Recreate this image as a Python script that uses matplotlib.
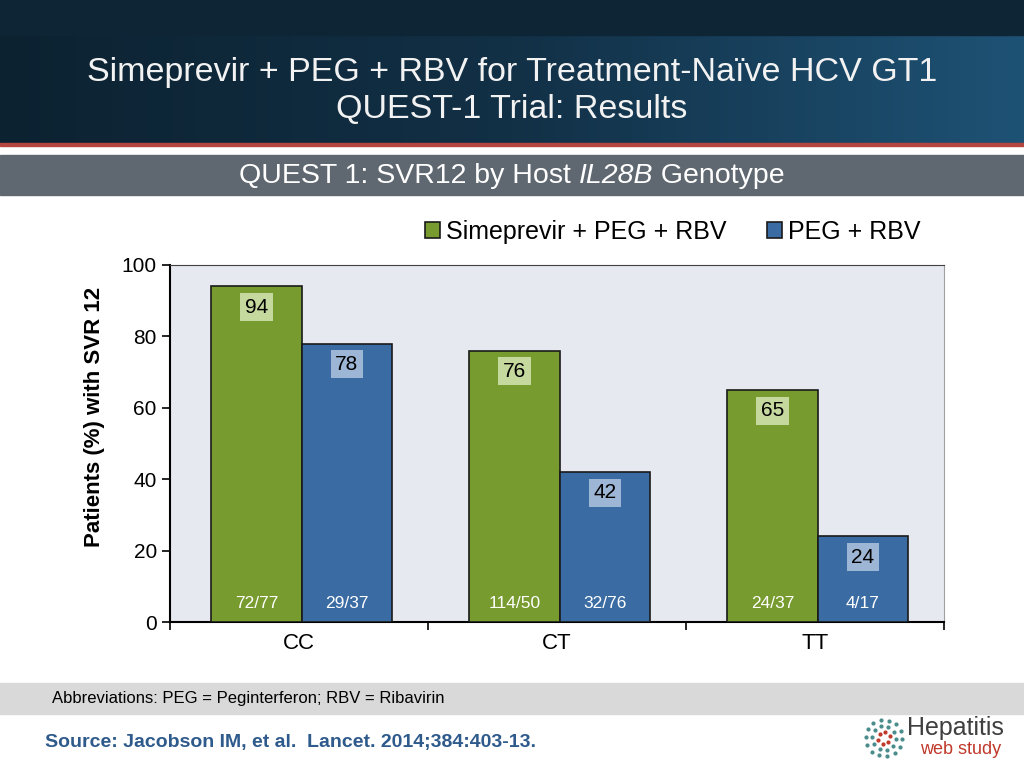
import matplotlib.pyplot as plt
from matplotlib.patches import Rectangle
from matplotlib.colors import LinearSegmentedColormap
import numpy as np

# chart values
genotypes = ['CC', 'CT', 'TT']
smv_values = [94, 76, 65]
peg_values = [78, 42, 24]
smv_counts = ['72/77', '114/50', '24/37']
peg_counts = ['29/37', '32/76', '4/17']
series_names = ['Simeprevir + PEG + RBV', 'PEG + RBV']
y_ticks = [0, 20, 40, 60, 80, 100]

GREEN = '#779B2E'
BLUE = '#3A6CA3'
plt.rcParams['font.family'] = ['Liberation Sans', 'DejaVu Sans']


def centered_parts(fig, parts, y, **kw):
    # lay out (text, style) pieces side by side, centered on the figure
    r = fig.canvas.get_renderer()
    texts = [fig.text(0, y, s, style=st, ha='left', va='center', **kw) for s, st in parts]
    widths = [t.get_window_extent(r).width for t in texts]
    x = (fig.bbox.width - sum(widths)) / 2
    for t, wd in zip(texts, widths):
        t.set_x(x / fig.bbox.width)
        x += wd


def main():
    fig = plt.figure(figsize=(10.24, 7.68), dpi=100)

    # slide background
    bg = fig.add_axes([0, 0, 1, 1])
    bg.set_xlim(0, 1024)
    bg.set_ylim(768, 0)
    bg.axis('off')
    grad = np.linspace(0, 1, 256).reshape(1, -1)
    hdr = LinearSegmentedColormap.from_list('hdr', ['#0C2231', '#123046', '#1E5275'])
    bg.imshow(np.vstack([grad, grad]), extent=(0, 1024, 143, 35), aspect='auto',
              cmap=hdr, zorder=0)
    bg.add_patch(Rectangle((0, 0), 1024, 35, color='#0E2535', zorder=1))
    bg.add_patch(Rectangle((0, 143), 1024, 3, color='#B5463F', zorder=1))
    bg.add_patch(Rectangle((0, 155), 1024, 40, color='#5F6870', zorder=1))
    bg.add_patch(Rectangle((0, 683), 1024, 31, color='#D9D9D9', zorder=1))

    fig.text(0.5, 1 - 72 / 768, 'Simeprevir + PEG + RBV for Treatment-Naïve HCV GT1',
             ha='center', va='center', color='#F2F2F2', fontsize=24.5)
    fig.text(0.5, 1 - 110 / 768, 'QUEST-1 Trial: Results',
             ha='center', va='center', color='#F2F2F2', fontsize=24.5)
    centered_parts(fig, [('QUEST 1: SVR12 by Host ', 'normal'), ('IL28B', 'italic'),
                         (' Genotype', 'normal')],
                   1 - 176 / 768, color='white', fontsize=20.5)
    fig.text(52 / 1024, 1 - 698 / 768, 'Abbreviations: PEG = Peginterferon; RBV = Ribavirin',
             ha='left', va='center', color='black', fontsize=12)
    fig.text(45 / 1024, 1 - 742 / 768, 'Source: Jacobson IM, et al.  Lancet. 2014;384:403-13.',
             ha='left', va='center', color='#2E5A8C', fontsize=14, fontweight='bold')

    # logo
    fig.text(907 / 1024, 1 - 728 / 768, 'Hepatitis', ha='left', va='center',
             color='#3F3F3F', fontsize=18)
    fig.text(920 / 1024, 1 - 750 / 768, 'web study', ha='left', va='center',
             color='#C0392B', fontsize=13)
    for r, n in [(6, 6), (12, 10), (18, 14)]:
        ang = np.linspace(0, 2 * np.pi, n, endpoint=False) + r
        bg.scatter(884 + r * np.cos(ang), 738 + r * np.sin(ang), s=4,
                   c=['#C0392B' if r == 6 else '#4A8C8C'], zorder=2)

    # chart
    ax = fig.add_axes([170 / 1024, 1 - 622 / 768, 774 / 1024, 357 / 768])
    ax.set_facecolor('#E6E9EF')
    x = np.arange(len(genotypes))
    w = 0.35
    b1 = ax.bar(x - w / 2 + 0.01, smv_values, w, color=GREEN, edgecolor='#1A1A1A',
                linewidth=1.2, label=series_names[0], zorder=3)
    b2 = ax.bar(x + w / 2 + 0.01, peg_values, w, color=BLUE, edgecolor='#1A1A1A',
                linewidth=1.2, label=series_names[1], zorder=3)

    for xi, v in zip(x - w / 2 + 0.01, smv_values):
        ax.text(xi, v - 5.8, str(v), ha='center', va='center', fontsize=15,
                bbox=dict(boxstyle='square,pad=0.22', fc='#C5D89E', ec='none'), zorder=4)
    for xi, v in zip(x + w / 2 + 0.01, peg_values):
        ax.text(xi, v - 5.8, str(v), ha='center', va='center', fontsize=15,
                bbox=dict(boxstyle='square,pad=0.22', fc='#9DB6D6', ec='none'), zorder=4)
    for xi, t in zip(x - w / 2 + 0.01, smv_counts):
        ax.text(xi, 5.3, t, ha='center', va='center', fontsize=12.5, color='white',
                zorder=4)
    for xi, t in zip(x + w / 2 + 0.01, peg_counts):
        ax.text(xi, 5.3, t, ha='center', va='center', fontsize=12.5, color='white',
                zorder=4)

    ax.set_xlim(-0.5, 2.5)
    ax.set_ylim(0, 100)
    ax.set_yticks(y_ticks)
    ax.set_yticklabels([str(t) for t in y_ticks], fontsize=15)
    ax.set_xticks([-0.5, 0.5, 1.5, 2.5])
    ax.set_xticklabels([])
    ax.set_xticks(x, minor=True)
    ax.set_xticklabels(genotypes, minor=True, fontsize=16)
    ax.tick_params(axis='x', which='minor', length=0, pad=8)
    ax.tick_params(axis='x', which='major', length=6, width=1.2, direction='out')
    ax.tick_params(axis='y', length=6, width=1.2, direction='out')
    for s in ['left', 'bottom']:
        ax.spines[s].set_linewidth(1.5)
        ax.spines[s].set_color('black')
    ax.spines['top'].set_color('#404040')
    ax.spines['right'].set_color('#A0A0A0')

    ax.set_ylabel('Patients (%) with SVR 12', fontsize=16, fontweight='bold')
    ax.yaxis.set_label_coords(-0.084, 0.574)

    ax.legend(handles=[b1, b2], loc='center left', bbox_to_anchor=(255 / 774, 1 + 33 / 357),
              ncol=2, frameon=False, fontsize=18, handlelength=0.6, handleheight=0.6,
              handletextpad=0.25, columnspacing=1.6, borderaxespad=0, borderpad=0)

    plt.savefig('out.png', dpi=100)


if __name__ == "__main__":
    main()
